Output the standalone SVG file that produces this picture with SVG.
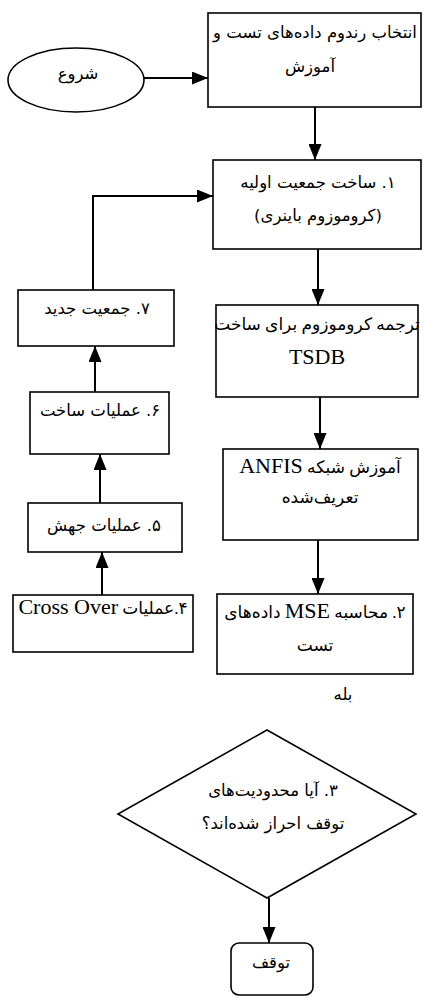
<svg xmlns="http://www.w3.org/2000/svg" width="423" height="998" viewBox="0 0 423 998">
<style>
.box{fill:#fff;stroke:#000;stroke-width:1.6}
.conn{fill:none;stroke:#000;stroke-width:2}
.fa{font-family:"DejaVu Sans","Noto Sans",sans-serif;font-size:16.5px;fill:#000}
.fn{font-family:"Liberation Serif","DejaVu Sans",serif;font-size:17px;fill:#000}
.lat{font-family:"Liberation Serif",serif;font-size:22px}
</style>
<defs>
<marker id="ah" markerUnits="userSpaceOnUse" viewBox="0 0 16 13" markerWidth="16" markerHeight="13" refX="16" refY="6.5" orient="auto">
<path d="M0,0 L16,6.5 L0,13 z" fill="#000"/>
</marker>
</defs>
<rect width="423" height="998" fill="#fff"/>
<g id="connectors">
<line class="conn" x1="144" y1="78" x2="208" y2="78" marker-end="url(#ah)"/>
<line class="conn" x1="315" y1="107" x2="315" y2="160" marker-end="url(#ah)"/>
<line class="conn" x1="318" y1="249" x2="318" y2="305" marker-end="url(#ah)"/>
<line class="conn" x1="320" y1="397" x2="320" y2="449" marker-end="url(#ah)"/>
<line class="conn" x1="318" y1="540" x2="318" y2="594" marker-end="url(#ah)"/>
<line class="conn" x1="269" y1="898" x2="269" y2="943" marker-end="url(#ah)"/>
<line class="conn" x1="102" y1="595" x2="102" y2="552" marker-end="url(#ah)"/>
<line class="conn" x1="100" y1="503" x2="100" y2="454" marker-end="url(#ah)"/>
<line class="conn" x1="95" y1="392" x2="95" y2="346" marker-end="url(#ah)"/>
<polyline class="conn" points="93,290 93,196 213,196" marker-end="url(#ah)"/>
</g>
<g id="start">
<ellipse cx="76" cy="80" rx="68" ry="32" fill="#fff" stroke="#000" stroke-width="1.6"/>
<text class="fa" x="78" y="79" text-anchor="middle" direction="rtl">شروع</text>
</g>
<g id="select">
<rect class="box" x="208" y="13" width="213" height="94"/>
<text class="fa" x="315" y="38" text-anchor="middle" direction="rtl">انتخاب رندوم داده‌های تست و</text>
<text class="fa" x="310" y="72" text-anchor="middle" direction="rtl">آموزش</text>
</g>
<g id="step1">
<rect class="box" x="213" y="160" width="208" height="89"/>
<text class="fa" x="318" y="188" text-anchor="middle" direction="rtl">۱. ساخت جمعیت اولیه</text>
<text class="fa" x="318" y="221" text-anchor="middle" direction="rtl">(کروموزوم باینری)</text>
</g>
<g id="translate">
<rect class="box" x="216" y="305" width="202" height="92"/>
<text class="fn" x="317" y="330" text-anchor="middle" direction="rtl">ترجمه کروموزوم برای ساخت</text>
<text class="fn lat" x="317" y="364" text-anchor="middle">TSDB</text>
</g>
<g id="anfis">
<rect class="box" x="223" y="449" width="195" height="91"/>
<text class="fn" x="320" y="473" text-anchor="middle" direction="rtl">آموزش شبکه <tspan class="lat">ANFIS</tspan></text>
<text class="fn" x="320" y="503" text-anchor="middle" direction="rtl">تعریف‌شده</text>
</g>
<g id="step2">
<rect class="box" x="217" y="594" width="196" height="80"/>
<text class="fn" x="315" y="618" text-anchor="middle" direction="rtl">۲. محاسبه <tspan class="lat">MSE</tspan> داده‌های</text>
<text class="fn" x="315" y="651" text-anchor="middle" direction="rtl">تست</text>
</g>
<g id="yes-label">
<text class="fa" x="343" y="700" text-anchor="middle" direction="rtl">بله</text>
</g>
<g id="step3">
<polygon points="267,730 416,814 267,898 118,814" fill="#fff" stroke="#000" stroke-width="1.6"/>
<text class="fa" x="273" y="796" text-anchor="middle" direction="rtl">۳. آیا محدودیت‌های</text>
<text class="fa" x="273" y="829" text-anchor="middle" direction="rtl">توقف احراز شده‌اند؟</text>
</g>
<g id="stop">
<rect x="231" y="943" width="82" height="52" rx="8" fill="#fff" stroke="#000" stroke-width="1.6"/>
<text class="fa" x="271" y="968" text-anchor="middle" direction="rtl">توقف</text>
</g>
<g id="step4">
<rect class="box" x="13" y="595" width="180" height="57"/>
<text class="fn" x="103" y="614" text-anchor="middle" direction="rtl">۴.عملیات <tspan class="lat">Cross Over</tspan></text>
</g>
<g id="step5">
<rect class="box" x="28" y="503" width="154" height="49"/>
<text class="fa" x="104" y="531" text-anchor="middle" direction="rtl">۵. عملیات جهش</text>
</g>
<g id="step6">
<rect class="box" x="30" y="392" width="139" height="62"/>
<text class="fa" x="100" y="416" text-anchor="middle" direction="rtl">۶. عملیات ساخت</text>
</g>
<g id="step7">
<rect class="box" x="18" y="290" width="156" height="56"/>
<text class="fa" x="97" y="314" text-anchor="middle" direction="rtl">۷. جمعیت جدید</text>
</g>
</svg>
